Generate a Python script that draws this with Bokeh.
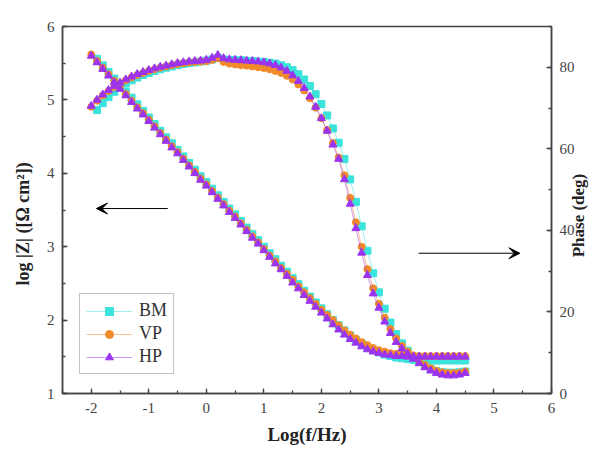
import math
from bokeh.plotting import figure
from bokeh.models import (Range1d, LinearAxis, SingleIntervalTicker, FixedTicker, Legend,
                          LegendItem, Arrow, VeeHead)
from bokeh.embed import file_html
from bokeh.resources import INLINE

# ---------------- data ----------------
log_f = [-2.0, -1.9, -1.8, -1.7, -1.6, -1.5, -1.4, -1.3, -1.2, -1.1,
         -1.0, -0.9, -0.8, -0.7, -0.6, -0.5, -0.4, -0.3, -0.2, -0.1,
         0.0, 0.1, 0.2, 0.3, 0.4, 0.5, 0.6, 0.7, 0.8, 0.9,
         1.0, 1.1, 1.2, 1.3, 1.4, 1.5, 1.6, 1.7, 1.8, 1.9,
         2.0, 2.1, 2.2, 2.3, 2.4, 2.5, 2.6, 2.7, 2.8, 2.9,
         3.0, 3.1, 3.2, 3.3, 3.4, 3.5, 3.6, 3.7, 3.8, 3.9,
         4.0, 4.1, 4.2, 4.3, 4.4, 4.5]
log_f_bm = log_f[1:]

bm_logz = [5.56, 5.47, 5.38, 5.29, 5.20, 5.11, 5.03, 4.94, 4.85,
           4.76, 4.67, 4.58, 4.49, 4.41, 4.32, 4.23, 4.14, 4.05, 3.96,
           3.88, 3.79, 3.70, 3.61, 3.52, 3.44, 3.35, 3.26, 3.17, 3.09,
           3.00, 2.91, 2.83, 2.74, 2.66, 2.57, 2.49, 2.40, 2.32, 2.24,
           2.16, 2.08, 2.00, 1.93, 1.86, 1.79, 1.73, 1.68, 1.63, 1.59,
           1.56, 1.53, 1.51, 1.49, 1.48, 1.47, 1.46, 1.46, 1.45, 1.45,
           1.45, 1.45, 1.45, 1.45, 1.45, 1.45]
vp_logz = [5.62, 5.53, 5.44, 5.35, 5.26, 5.17, 5.08, 4.99, 4.90, 4.82,
           4.73, 4.64, 4.55, 4.46, 4.37, 4.29, 4.20, 4.11, 4.02, 3.93,
           3.85, 3.76, 3.67, 3.58, 3.49, 3.41, 3.32, 3.23, 3.14, 3.06,
           2.97, 2.88, 2.80, 2.71, 2.63, 2.55, 2.46, 2.38, 2.30, 2.22,
           2.14, 2.07, 2.00, 1.93, 1.86, 1.80, 1.75, 1.70, 1.66, 1.62,
           1.59, 1.57, 1.55, 1.54, 1.53, 1.52, 1.52, 1.51, 1.51, 1.51,
           1.51, 1.51, 1.51, 1.51, 1.51, 1.51]
hp_logz = [5.60, 5.51, 5.42, 5.33, 5.24, 5.15, 5.06, 4.97, 4.88, 4.80,
           4.71, 4.62, 4.53, 4.44, 4.35, 4.27, 4.18, 4.09, 4.00, 3.91,
           3.83, 3.74, 3.65, 3.56, 3.47, 3.39, 3.30, 3.21, 3.12, 3.04,
           2.95, 2.86, 2.77, 2.69, 2.60, 2.51, 2.43, 2.34, 2.26, 2.18,
           2.10, 2.02, 1.94, 1.87, 1.80, 1.74, 1.69, 1.64, 1.60, 1.57,
           1.55, 1.53, 1.52, 1.51, 1.51, 1.50, 1.50, 1.50, 1.50, 1.50,
           1.50, 1.50, 1.50, 1.50, 1.50, 1.50]

bm_phase = [69.5, 71.2, 72.7, 74.0, 75.1, 76.0, 76.8, 77.5, 78.1,
            78.6, 79.1, 79.5, 79.9, 80.2, 80.5, 80.8, 81.0, 81.2, 81.4,
            81.6, 81.9, 82.3, 81.9, 81.8, 81.7, 81.7, 81.6, 81.5, 81.4,
            81.3, 81.1, 80.9, 80.5, 80.0, 79.3, 78.3, 77.0, 75.4, 73.4,
            71.0, 68.2, 65.0, 61.5, 57.5, 52.5, 47.0, 41.0, 35.0, 29.5,
            24.8, 20.8, 17.4, 14.6, 12.3, 10.5, 9.0, 7.8, 6.8, 6.0,
            5.5, 5.2, 5.1, 5.1, 5.2, 5.4]
vp_phase = [70.3, 71.8, 73.1, 74.2, 75.2, 76.0, 76.8, 77.5, 78.1, 78.6,
            79.1, 79.5, 79.9, 80.2, 80.5, 80.8, 81.0, 81.2, 81.3, 81.4,
            81.5, 81.8, 82.2, 81.3, 80.9, 80.7, 80.5, 80.4, 80.2, 80.0,
            79.8, 79.5, 79.1, 78.6, 77.9, 77.0, 75.8, 74.3, 72.4, 70.1,
            67.5, 64.6, 61.4, 57.9, 53.5, 48.0, 42.0, 36.0, 30.5, 25.8,
            22.0, 18.6, 15.8, 13.5, 11.7, 10.3, 9.1, 8.0, 7.0, 6.2,
            5.6, 5.2, 5.0, 5.0, 5.1, 5.4]
hp_phase = [70.5, 72.0, 73.3, 74.4, 75.4, 76.2, 77.0, 77.7, 78.3, 78.8,
            79.3, 79.7, 80.1, 80.4, 80.7, 81.0, 81.2, 81.4, 81.5, 81.6,
            81.8, 82.3, 83.0, 82.2, 81.9, 81.8, 81.7, 81.6, 81.5, 81.4,
            81.2, 80.9, 80.5, 79.9, 79.1, 78.0, 76.6, 74.9, 72.8, 70.3,
            67.5, 64.4, 61.0, 57.5, 52.5, 46.5, 40.5, 34.5, 29.0, 24.5,
            21.0, 17.6, 14.8, 12.6, 11.0, 9.7, 8.5, 7.4, 6.4, 5.6,
            5.0, 4.6, 4.4, 4.4, 4.6, 5.0]

series_names = ["BM", "VP", "HP"]
colors = ["#3ae3dc", "#f28a2a", "#9b34ee"]
markers = ["square", "circle", "triangle"]

x_title = "Log(f/Hz)"
y_title = "log |Z| ([Ω cm²])"
y2_title = "Phase (deg)"

# annotation arrows: (x_start, x_end, y)
arrow_left = (-0.67, -1.91, 3.52)      # points to log|Z| axis
arrow_right = (3.69, 5.45, 34.4)       # points to phase axis

FONT = "Liberation Serif"
AXC = "#444444"

p = figure(width=600, height=450, output_backend="svg", toolbar_location=None,
           x_range=Range1d(-2.5, 6), y_range=Range1d(1, 6),
           min_border_left=60, min_border_right=47, min_border_top=26, min_border_bottom=57,
           background_fill_color="white", border_fill_color="white")
p.extra_y_ranges = {"phase": Range1d(0, 90)}
p.xgrid.visible = False
p.ygrid.visible = False
p.outline_line_color = AXC
p.outline_line_width = 1.5

right_axis = LinearAxis(y_range_name="phase")
p.add_layout(right_axis, "right")

def style_axis(ax, interval):
    ax.ticker = SingleIntervalTicker(interval=interval, num_minor_ticks=2)
    ax.axis_line_color = AXC
    ax.axis_line_width = 1.5
    ax.major_tick_line_color = AXC
    ax.minor_tick_line_color = AXC
    ax.major_tick_line_width = 1.3
    ax.minor_tick_line_width = 1.3
    ax.major_tick_in = 5
    ax.major_tick_out = 0
    ax.minor_tick_in = 3
    ax.minor_tick_out = 0
    ax.major_label_text_font = FONT
    ax.major_label_text_font_size = "15px"
    ax.major_label_text_color = "#444444"
    ax.major_label_standoff = 8

style_axis(p.xaxis[0], 1)
style_axis(p.yaxis[0], 1)
style_axis(right_axis, 20)
p.xaxis[0].major_label_standoff = 9
p.xaxis[0].major_label_overrides = {-2: "-2", -1: "-1"}

p.xaxis.axis_label = x_title
p.xaxis.axis_label_text_font = FONT
p.xaxis.axis_label_text_font_size = "19px"
p.xaxis.axis_label_text_font_style = "bold"
p.xaxis.axis_label_text_color = "#222222"
p.xaxis.axis_label_standoff = 8

# title axes (plain text placed as rotated tick labels, reading bottom-to-top)
def title_axis(tick, text, standoff, size, **kw):
    ax = LinearAxis(ticker=FixedTicker(ticks=[tick], minor_ticks=[]), **kw)
    ax.major_label_overrides = {tick: text}
    ax.major_label_orientation = math.pi / 2
    ax.axis_line_color = None
    ax.major_tick_line_color = None
    ax.minor_tick_line_color = None
    ax.major_label_text_font = FONT
    ax.major_label_text_font_size = size
    ax.major_label_text_font_style = "bold"
    ax.major_label_text_color = "#222222"
    ax.major_label_standoff = standoff
    return ax

p.add_layout(title_axis(4.15, y_title, 14, "18px"), "left")
p.add_layout(title_axis(33.4, y2_title, -5, "17px", y_range_name="phase"), "right")

# data
items = []
xs_list = [log_f_bm, log_f, log_f]
logz_list = [bm_logz, vp_logz, hp_logz]
phase_list = [bm_phase, vp_phase, hp_phase]
for name, col, mk, xs, lz, ph in zip(series_names, colors, markers, xs_list, logz_list, phase_list):
    sz = 8 if mk == "triangle" else 7
    l1 = p.line(xs, lz, line_color=col, line_width=1, line_alpha=0.5)
    p.line(xs, ph, line_color=col, line_width=1, line_alpha=0.5, y_range_name="phase")
    s1 = p.scatter(xs, lz, marker=mk, size=sz, fill_color=col, line_color=col)
    p.scatter(xs, ph, marker=mk, size=sz, fill_color=col, line_color=col, y_range_name="phase")
    items.append(LegendItem(label=name, renderers=[l1, s1]))

legend = Legend(items=items, location=(17, 19), padding=6, spacing=2,
                glyph_width=46, glyph_height=20, label_height=20, label_standoff=7,
                label_text_font=FONT, label_text_font_size="18px", label_text_color="#333333",
                border_line_color="#888888", border_line_width=1, margin=0,
                background_fill_alpha=1.0)
p.add_layout(legend)

# arrows
p.add_layout(Arrow(end=VeeHead(size=11, fill_color="black", line_color="black"),
                   x_start=arrow_left[0], y_start=arrow_left[2],
                   x_end=arrow_left[1], y_end=arrow_left[2],
                   line_color="black", line_width=1))
p.add_layout(Arrow(end=VeeHead(size=11, fill_color="black", line_color="black"),
                   x_start=arrow_right[0], y_start=arrow_right[2],
                   x_end=arrow_right[1], y_end=arrow_right[2],
                   line_color="black", line_width=1, y_range_name="phase"))

open("out.html", "w").write(file_html(p, INLINE))
